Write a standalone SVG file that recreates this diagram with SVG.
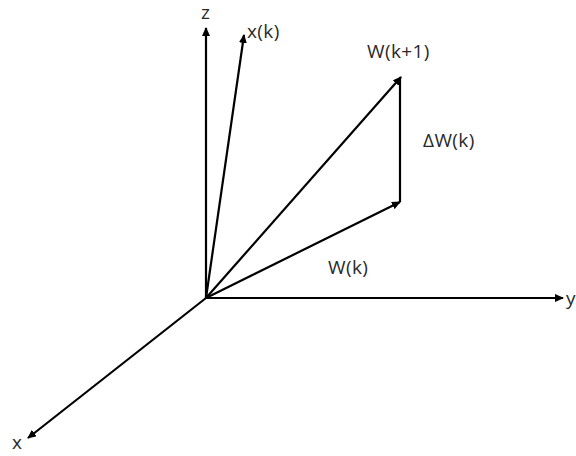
<svg xmlns="http://www.w3.org/2000/svg" width="576" height="456" viewBox="0 0 576 456">
<style>
.l{stroke:#000;stroke-width:2.2;fill:none}
.t{font-family:"Open Sans","Liberation Sans",sans-serif;font-size:19px;fill:#2a2a2a;letter-spacing:0.4px}
</style>
<defs>
<marker id="a" markerWidth="10" markerHeight="8" refX="8" refY="4" orient="auto" markerUnits="userSpaceOnUse">
<path d="M0,0 L9,4 L0,8 Z" fill="#000"/>
</marker>
</defs>
<rect width="576" height="456" fill="#fff"/>
<g id="connectors">
<line class="l" x1="206" y1="298" x2="206" y2="28" marker-end="url(#a)"/>
<line class="l" x1="206" y1="298" x2="563" y2="298" marker-end="url(#a)"/>
<line class="l" x1="206" y1="298" x2="28" y2="438" marker-end="url(#a)"/>
<line class="l" x1="206" y1="298" x2="244" y2="35" marker-end="url(#a)"/>
<line class="l" x1="206" y1="298" x2="401" y2="77" marker-end="url(#a)"/>
<line class="l" x1="206" y1="298" x2="400" y2="202" marker-end="url(#a)"/>
<line class="l" x1="400" y1="202" x2="400" y2="78"/>
</g>
<g id="labels">
<text class="t" x="201" y="19">z</text>
<text class="t" x="247" y="38">x(k)</text>
<text class="t" x="367" y="58">W(k+1)</text>
<text class="t" x="423" y="147">ΔW(k)</text>
<text class="t" x="328" y="274">W(k)</text>
<text class="t" x="566" y="305">y</text>
<text class="t" x="12" y="449">x</text>
</g>
</svg>
